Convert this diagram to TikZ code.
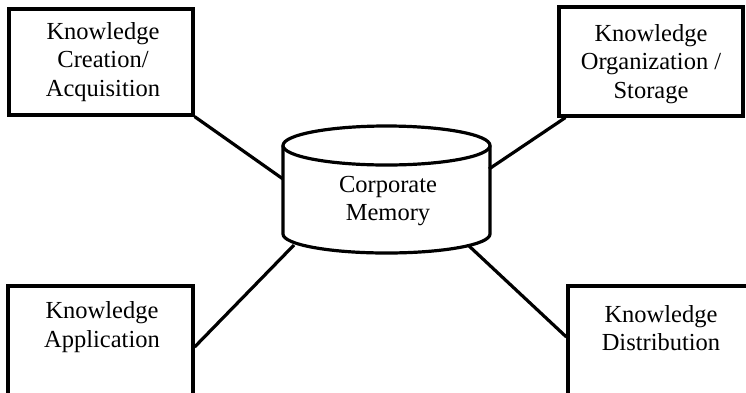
\documentclass[tikz,border=0pt]{standalone}
\usepackage{fontspec}
\setmainfont{Liberation Serif}
\begin{document}
\begin{tikzpicture}[x=1pt,y=-1pt,
  lbl/.style={align=center,font=\fontsize{24.5}{28.5}\selectfont,inner sep=0pt},
  kbox/.style={draw,line width=3.2pt,rectangle,inner sep=0pt},
  link/.style={line width=3.2pt}]
\useasboundingbox (0,0) rectangle (746,392);
% boxes
\node[kbox,minimum width=184pt,minimum height=106pt] (tl) at (101,62) {};
\node[kbox,minimum width=184pt,minimum height=109pt] (tr) at (651,61.5) {};
\node[kbox,minimum width=185pt,minimum height=112pt] (bl) at (100.5,342) {};
\node[kbox,minimum width=190pt,minimum height=120pt] (br) at (663,346) {};
% texts
\node[lbl] (tltext) at (103,62) {Knowledge\\Creation/\\Acquisition};
\node[lbl] (trtext) at (651,64) {Knowledge\\Organization /\\Storage};
\node[lbl] (bltext) at (102,327) {Knowledge\\Application};
\node[lbl] (brtext) at (661,328) {Knowledge\\Distribution};
% cylinder
\draw[line width=3.2pt] (386.5,145.5) ellipse [x radius=103.5, y radius=19.5];
\draw[line width=3.2pt] (283,145.5) -- (283,234) arc[start angle=180,end angle=0,x radius=103.5,y radius=19] -- (490,145.5);
\node[lbl] (mem) at (388,201) {Corporate\\Memory};
% anchor points on cylinder
\coordinate (cl) at (283,179);
\coordinate (cr) at (489,169);
\coordinate (cbl) at (294,245);
\coordinate (cbr) at (468,245);
% anchor points on boxes
\coordinate (trp) at ([xshift=8pt]tr.south west);
\coordinate (blp) at (bl.east |- 0,347);
\coordinate (brp) at (br.west |- 0,337);
% connectors
\draw[link] (tl.south east) -- (cl);
\draw[link] (trp) -- (cr);
\draw[link] (blp) -- (cbl);
\draw[link] (brp) -- (cbr);
\end{tikzpicture}
\end{document}
